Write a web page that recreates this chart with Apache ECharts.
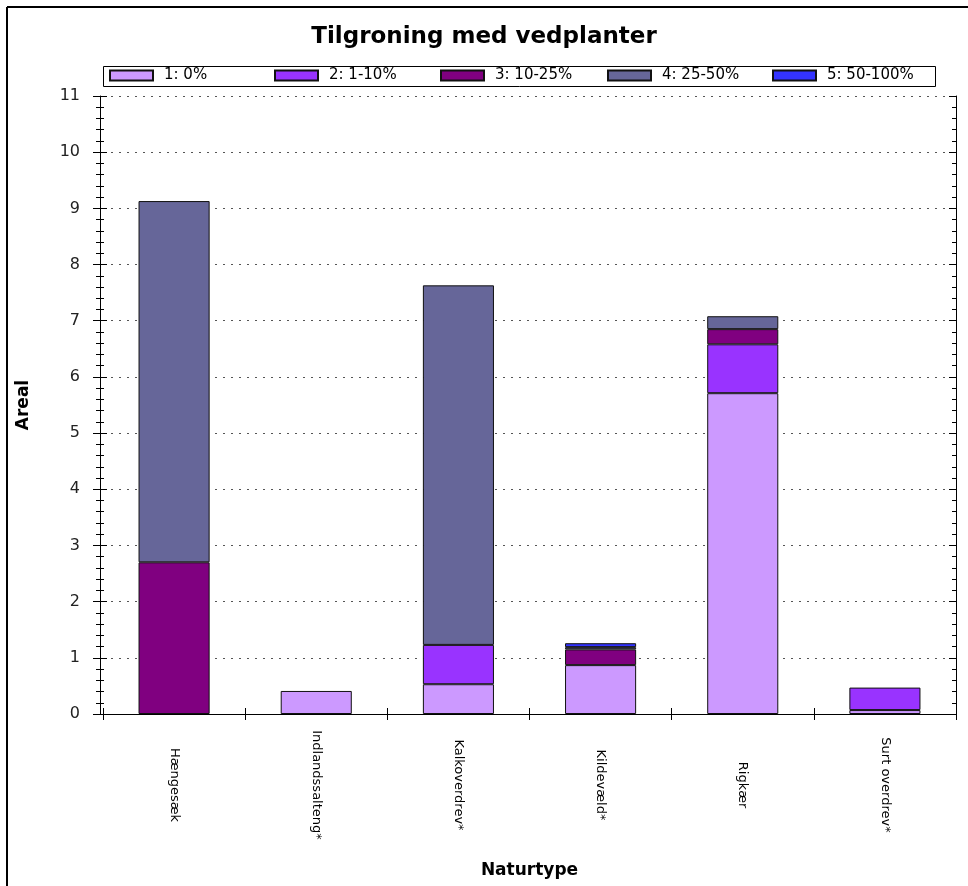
<!DOCTYPE html>
<html>
<head>
<meta charset="utf-8">
<script src="https://cdn.jsdelivr.net/npm/echarts@6/dist/echarts.min.js"></script>
<style>
  html, body { margin: 0; padding: 0; background: #fff; }
  #chart { width: 968px; height: 886px; }
</style>
</head>
<body>
<div id="chart"></div>
<script>
// data
var categories = ['Hængesæk', 'Indlandssalteng*', 'Kalkoverdrev*', 'Kildevæld*', 'Rigkær', 'Surt overdrev*'];
var seriesNames = ['1: 0%', '2: 1-10%', '3: 10-25%', '4: 25-50%', '5: 50-100%'];
var seriesColors = ['#cc99ff', '#9933ff', '#800080', '#666699', '#3333ff'];
var s1 = [null, 0.41, 0.53, 0.87, 5.71, 0.07];
var s2 = [null, null, 0.70, null, 0.87, 0.40];
var s3 = [2.70, null, null, 0.28, 0.27, null];
var s4 = [6.43, null, 6.40, 0.04, 0.23, null];
var s5 = [null, null, null, 0.07, null, null];
var seriesData = [s1, s2, s3, s4, s5];

var myChart = echarts.init(document.getElementById('chart'));

var yBase = { type: 'value', min: 0, max: 11, interval: 1 };

var series = seriesNames.map(function (name, i) {
    return {
        name: name,
        type: 'bar',
        stack: 'all',
        barWidth: '50%',
        data: seriesData[i],
        itemStyle: { color: seriesColors[i], borderColor: '#111', borderWidth: 1 }
    };
});

// one legend per entry so the entries sit evenly in the box
var legendLeft = [109, 274, 440, 607, 772];
var legends = seriesNames.map(function (name, i) {
    return {
        left: legendLeft[i],
        top: 68,
        padding: 0,
        itemWidth: 43,
        itemHeight: 10,
        icon: 'rect',
        textStyle: { fontFamily: 'DejaVu Sans', fontSize: 15, color: '#000', padding: [0, 0, 0, 6] },
        data: [name]
    };
});

var option = {
    animation: false,
    backgroundColor: '#fff',
    title: {
        text: 'Tilgroning med vedplanter',
        left: 'center',
        top: 21,
        textStyle: { fontFamily: 'DejaVu Sans', fontSize: 23, fontWeight: 'bold', color: '#000' }
    },
    legend: legends,
    grid: { left: 103, right: 12, top: 96, bottom: 172 },
    xAxis: [
        {
            type: 'category',
            data: categories,
            position: 'bottom',
            name: 'Naturtype',
            nameLocation: 'middle',
            nameGap: 148,
            nameTextStyle: { fontFamily: 'DejaVu Sans', fontSize: 17, fontWeight: 'bold', color: '#000' },
            axisLine: { lineStyle: { color: '#000', width: 1 } },
            axisTick: { show: true, inside: false, length: 6, lineStyle: { color: '#000' } },
            axisLabel: {
                rotate: -90,
                margin: 71,
                align: 'center',
                verticalAlign: 'middle',
                fontFamily: 'DejaVu Sans',
                fontSize: 13,
                color: '#000'
            },
            splitLine: { show: false }
        },
        {
            type: 'category',
            data: categories,
            position: 'bottom',
            axisLine: { show: false },
            axisTick: { show: true, inside: true, length: 6, lineStyle: { color: '#000' } },
            axisLabel: { show: false },
            splitLine: { show: false }
        },
        {
            type: 'category',
            data: categories,
            position: 'top',
            axisLine: { lineStyle: { color: '#000', width: 1 } },
            axisTick: { show: false },
            axisLabel: { show: false },
            splitLine: { show: false }
        }
    ],
    yAxis: [
        Object.assign({}, yBase, {
            position: 'left',
            offset: 3,
            name: 'Areal',
            nameLocation: 'middle',
            nameGap: 68,
            nameRotate: 90,
            nameTextStyle: { fontFamily: 'DejaVu Sans', fontSize: 17, fontWeight: 'bold', color: '#000' },
            axisLine: { show: true, lineStyle: { color: '#000', width: 1 } },
            axisTick: { show: true, inside: false, length: 7, lineStyle: { color: '#000' } },
            minorTick: { show: true, splitNumber: 5, length: 4, lineStyle: { color: '#000' } },
            axisLabel: { margin: 20, fontFamily: 'DejaVu Sans', fontSize: 16, color: '#222' },
            splitLine: { show: true, lineStyle: { color: '#555', type: [2, 6], width: 1 } }
        }),
        Object.assign({}, yBase, {
            position: 'left',
            offset: 3,
            axisLine: { show: false },
            axisTick: { show: true, inside: true, length: 7, lineStyle: { color: '#000' } },
            minorTick: { show: true, splitNumber: 5, length: 4, lineStyle: { color: '#000' } },
            axisLabel: { show: false },
            splitLine: { show: false }
        }),
        Object.assign({}, yBase, {
            position: 'right',
            axisLine: { show: true, lineStyle: { color: '#000', width: 1 } },
            axisTick: { show: true, inside: true, length: 7, lineStyle: { color: '#000' } },
            minorTick: { show: true, splitNumber: 5, length: 4, lineStyle: { color: '#000' } },
            axisLabel: { show: false },
            splitLine: { show: false }
        })
    ],
    graphic: [
        { type: 'line', shape: { x1: 7, y1: 7, x2: 968, y2: 7 }, style: { stroke: '#000', lineWidth: 2 } },
        { type: 'line', shape: { x1: 7, y1: 7, x2: 7, y2: 886 }, style: { stroke: '#000', lineWidth: 2 } },
        { type: 'rect', shape: { x: 103.5, y: 66.5, width: 832, height: 20 }, style: { fill: null, stroke: '#000', lineWidth: 1 }, z: -1 }
    ],
    series: series
};

myChart.setOption(option);
</script>
</body>
</html>
